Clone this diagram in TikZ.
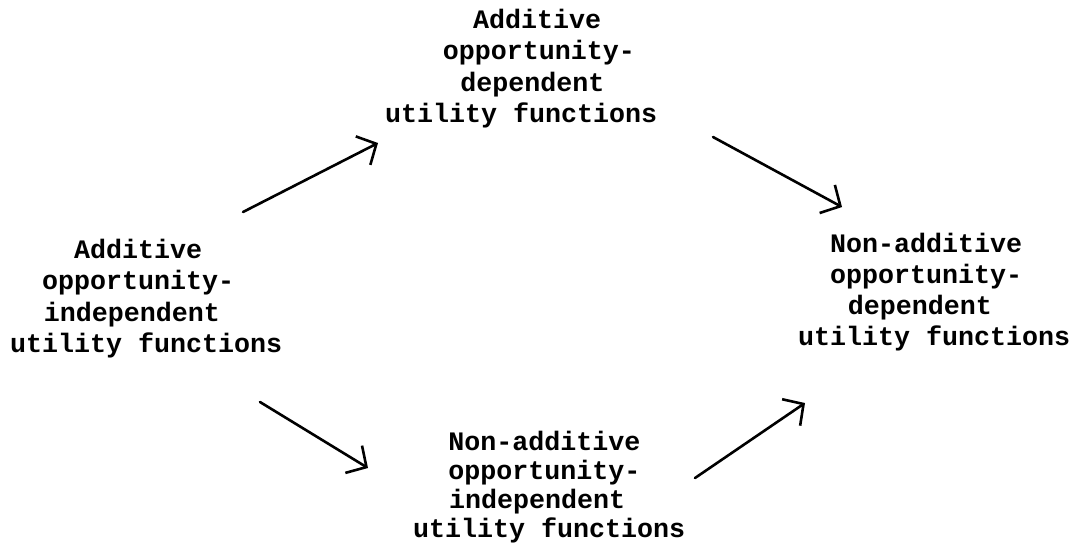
\documentclass[tikz,border=0pt]{standalone}
\usepackage{fontspec}
\setmonofont{Liberation Mono}
\usetikzlibrary{arrows.meta}
\newlength{\cw}\setlength{\cw}{16pt}
\newcommand{\blocktext}[1]{\begin{tabular}[t]{@{}l@{}}#1\end{tabular}}
\tikzset{
  blk/.style={anchor=base west, inner sep=0pt, font=\ttfamily\bfseries\fontsize{26.67}{31.5}\selectfont},
  arr/.style={line width=2.6pt, line cap=round, -{Straight Barb[length=15pt,width=32pt,line width=2.6pt]}}
}
\begin{document}
\begin{tikzpicture}[x=1pt,y=-1pt]
\useasboundingbox (0,0) rectangle (1076,550);
\node[blk] (ai) at (10,258) {\blocktext{\hspace*{4\cw}Additive\\\hspace*{2\cw}opportunity-\\\hspace*{2.1\cw}independent\\utility functions}};
\node[blk] (ad) at (385,28) {\blocktext{\hspace*{5.5\cw}Additive\\\hspace*{3.6\cw}opportunity-\\\hspace*{4.7\cw}dependent\\utility functions}};
\node[blk, font=\ttfamily\bfseries\fontsize{26.67}{31}\selectfont] (nd) at (798,252) {\blocktext{\hspace*{2\cw}Non-additive\\\hspace*{2\cw}opportunity-\\\hspace*{3.1\cw}dependent\\utility functions}};
\node[blk, font=\ttfamily\bfseries\fontsize{26.67}{29}\selectfont] (ni) at (413,450) {\blocktext{\hspace*{2.2\cw}Non-additive\\\hspace*{2.2\cw}opportunity-\\\hspace*{2.25\cw}independent\\utility functions}};
\coordinate (a1s) at (243,212);
\coordinate (a1e) at (378,143);
\coordinate (a2s) at (713,137);
\coordinate (a2e) at (842,207);
\coordinate (a3s) at (260,402);
\coordinate (a3e) at (368,468);
\coordinate (a4s) at (695,478);
\coordinate (a4e) at (805,403);
\draw[arr] (a1s) -- (a1e);
\draw[arr] (a2s) -- (a2e);
\draw[arr] (a3s) -- (a3e);
\draw[arr] (a4s) -- (a4e);
\end{tikzpicture}
\end{document}
